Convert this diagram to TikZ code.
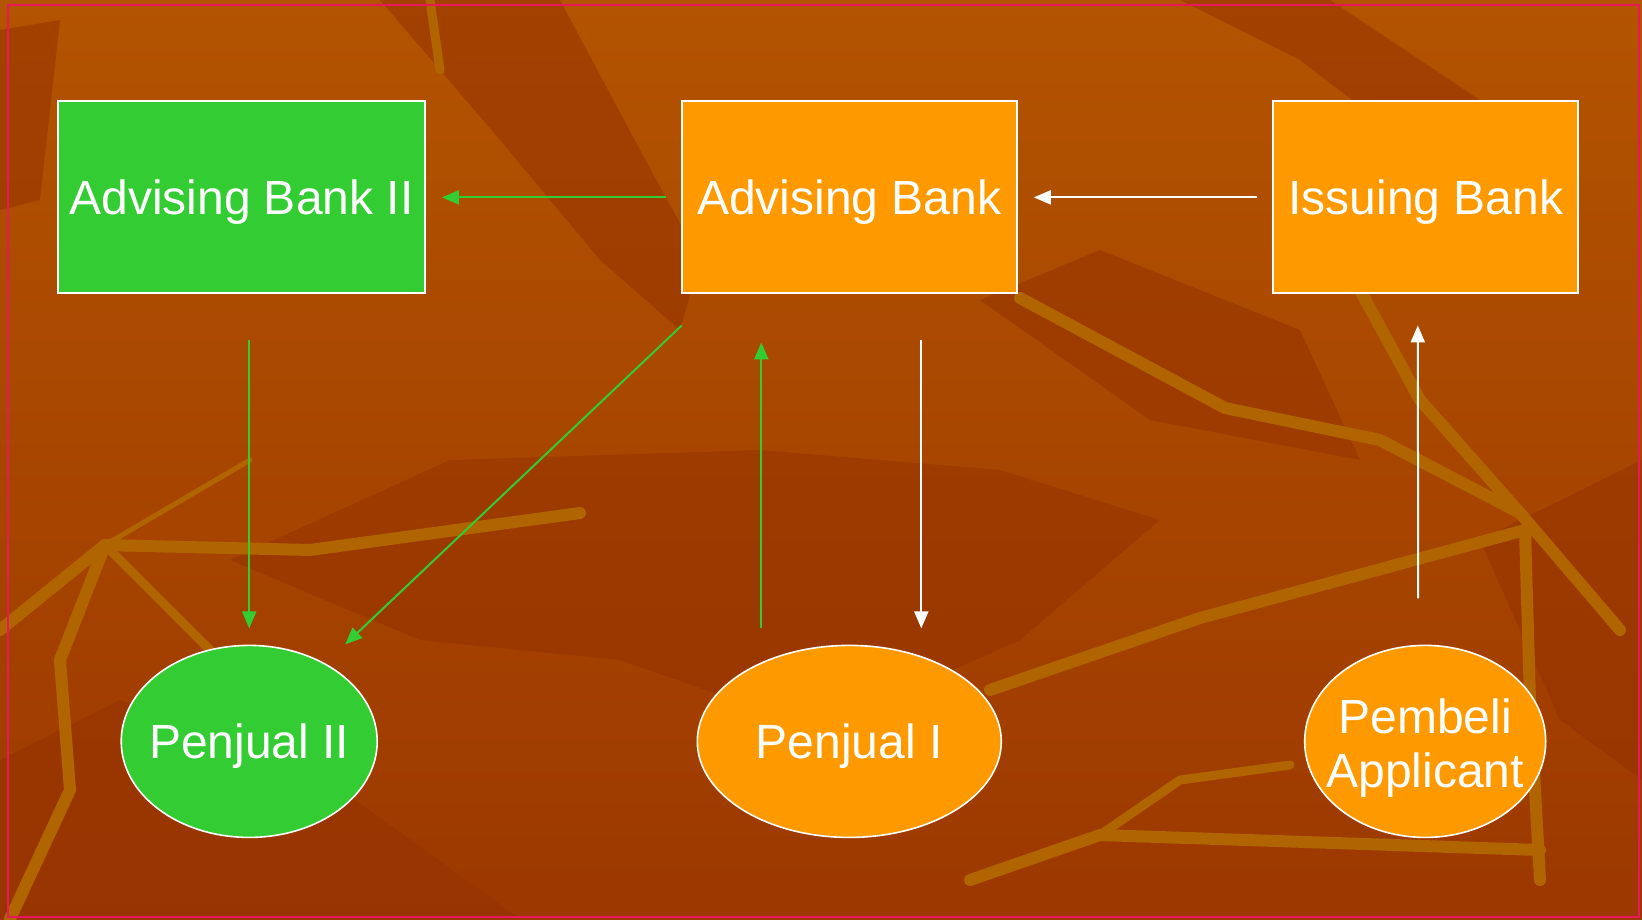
\documentclass[tikz,border=0pt]{standalone}
\usepackage{fontspec}
\setmainfont{Liberation Sans}
\usetikzlibrary{shapes.geometric,arrows.meta,calc}

\definecolor{bgtop}{HTML}{B35400}
\definecolor{bgbot}{HTML}{9C3800}
\definecolor{leafdark}{HTML}{953200}
\definecolor{leafgold}{HTML}{B06500}
\definecolor{boxorange}{HTML}{FF9900}
\definecolor{boxgreen}{HTML}{33CC33}
\definecolor{framered}{HTML}{E8185A}

\tikzset{
  bank/.style={draw=white, line width=2pt, minimum height=192pt, text=white, text depth=0pt,
    font=\fontsize{48}{55}\selectfont, inner sep=0pt, outer sep=0pt},
  party/.style={ellipse, draw=white, line width=1.6pt, minimum height=192pt, text=white,
    font=\fontsize{48}{55}\selectfont, inner sep=0pt, outer sep=0pt},
  garrow/.style={draw=boxgreen, line width=2pt, -{Triangle[length=17pt,width=14pt]}},
  warrow/.style={draw=white, line width=2pt, -{Triangle[length=17pt,width=14pt]}},
  goldstreak/.style={leafgold, line width=12pt, line join=round, line cap=round},
  darkleaf/.style={leafdark, opacity=.55},
}

\begin{document}
\begin{tikzpicture}[x=1pt,y=-1pt]
\useasboundingbox (0,0) rectangle (1642,919);
% background
\shade[top color=bgtop, bottom color=bgbot] (0,0) rectangle (1642,919);
\fill[darkleaf] (380,0) -- (560,0) -- (640,150) -- (700,260) -- (680,330) -- (600,260) -- (500,140) -- cycle;
\fill[darkleaf] (0,30) -- (60,20) -- (40,200) -- (0,210) -- cycle;
\fill[darkleaf] (1180,0) -- (1330,0) -- (1480,100) -- (1430,160) -- (1300,60) -- cycle;
\fill[darkleaf] (230,560) -- (450,460) -- (760,450) -- (1000,470) -- (1160,520) -- (1020,640)
  -- (820,730) -- (620,660) -- (420,640) -- cycle;
\fill[darkleaf] (0,919) -- (0,760) -- (120,700) -- (300,760) -- (520,919) -- cycle;
\fill[darkleaf] (1480,540) -- (1642,460) -- (1642,780) -- (1560,720) -- cycle;
\fill[darkleaf] (980,300) -- (1100,250) -- (1300,330) -- (1360,460) -- (1150,420) -- cycle;
\draw[goldstreak] (0,630) -- (105,545) -- (310,550) -- (580,513);
\draw[goldstreak, line width=5pt] (105,545) -- (250,460);
\draw[goldstreak] (105,545) -- (60,660) -- (70,790) -- (10,919);
\draw[goldstreak, line width=9pt] (105,545) -- (210,650);
\draw[goldstreak] (1020,298) -- (1225,408) -- (1380,440) -- (1520,513) -- (1620,630);
\draw[goldstreak] (1360,290) -- (1420,400) -- (1520,513);
\draw[goldstreak] (990,690) -- (1200,618) -- (1525,530);
\draw[goldstreak] (1525,530) -- (1530,700) -- (1540,880);
\draw[goldstreak] (970,880) -- (1100,835) -- (1540,850);
\draw[goldstreak, line width=9pt] (1100,835) -- (1180,780) -- (1290,765);
\draw[goldstreak, line width=9pt] (430,0) -- (440,70);
\draw[framered, line width=2.5pt] (8,5) rectangle (1639,917);

% banks
\node[bank, fill=boxgreen, minimum width=367pt] (advbankii) at (241.4,197.4) {Advising Bank II};
\node[bank, fill=boxorange, minimum width=335pt] (advbank) at (849.3,197.4) {Advising Bank};
\node[bank, fill=boxorange, minimum width=305pt] (issbank) at (1425.8,197.4) {Issuing Bank};

% sellers and buyer
\node[party, fill=boxgreen, minimum width=256pt, text depth=0pt] (penjualii) at (249.2,741.4) {\makebox[0pt]{Penjual II}};
\node[party, fill=boxorange, minimum width=304pt, text depth=0pt] (penjuali) at (849.3,741.4) {\makebox[0pt]{Penjual I}};
\node[party, fill=boxorange, minimum width=241pt] (pembeli) at (1425.2,741.4)
  {\makebox[0pt]{\raisebox{-14pt}[0pt][0pt]{\begin{tabular}{@{}c@{}}Pembeli\\[-1pt]Applicant\end{tabular}}}};

% flows
\draw[warrow, shorten <=16pt, shorten >=17pt] (issbank) -- (advbank);
\draw[garrow, shorten <=16pt, shorten >=17pt] (advbank) -- (advbankii);
\draw[garrow, shorten <=47pt, shorten >=17pt] (advbankii.south -| penjualii) -- (penjualii.north);
\draw[garrow] ($(advbank.south west)+(0,32)$) -- ($(penjualii.center)+(96,-97)$);
\draw[garrow] ($(penjuali.north)+(-88,-17)$) -- ($(advbank.south)+(-88,49)$);
\draw[warrow] ($(advbank.south)+(72,47)$) -- ($(penjuali.north)+(72,-17)$);
\draw[warrow] ($(pembeli.north)+(-7,-47)$) -- ($(issbank.south)+(-8,32)$);
\end{tikzpicture}
\end{document}
